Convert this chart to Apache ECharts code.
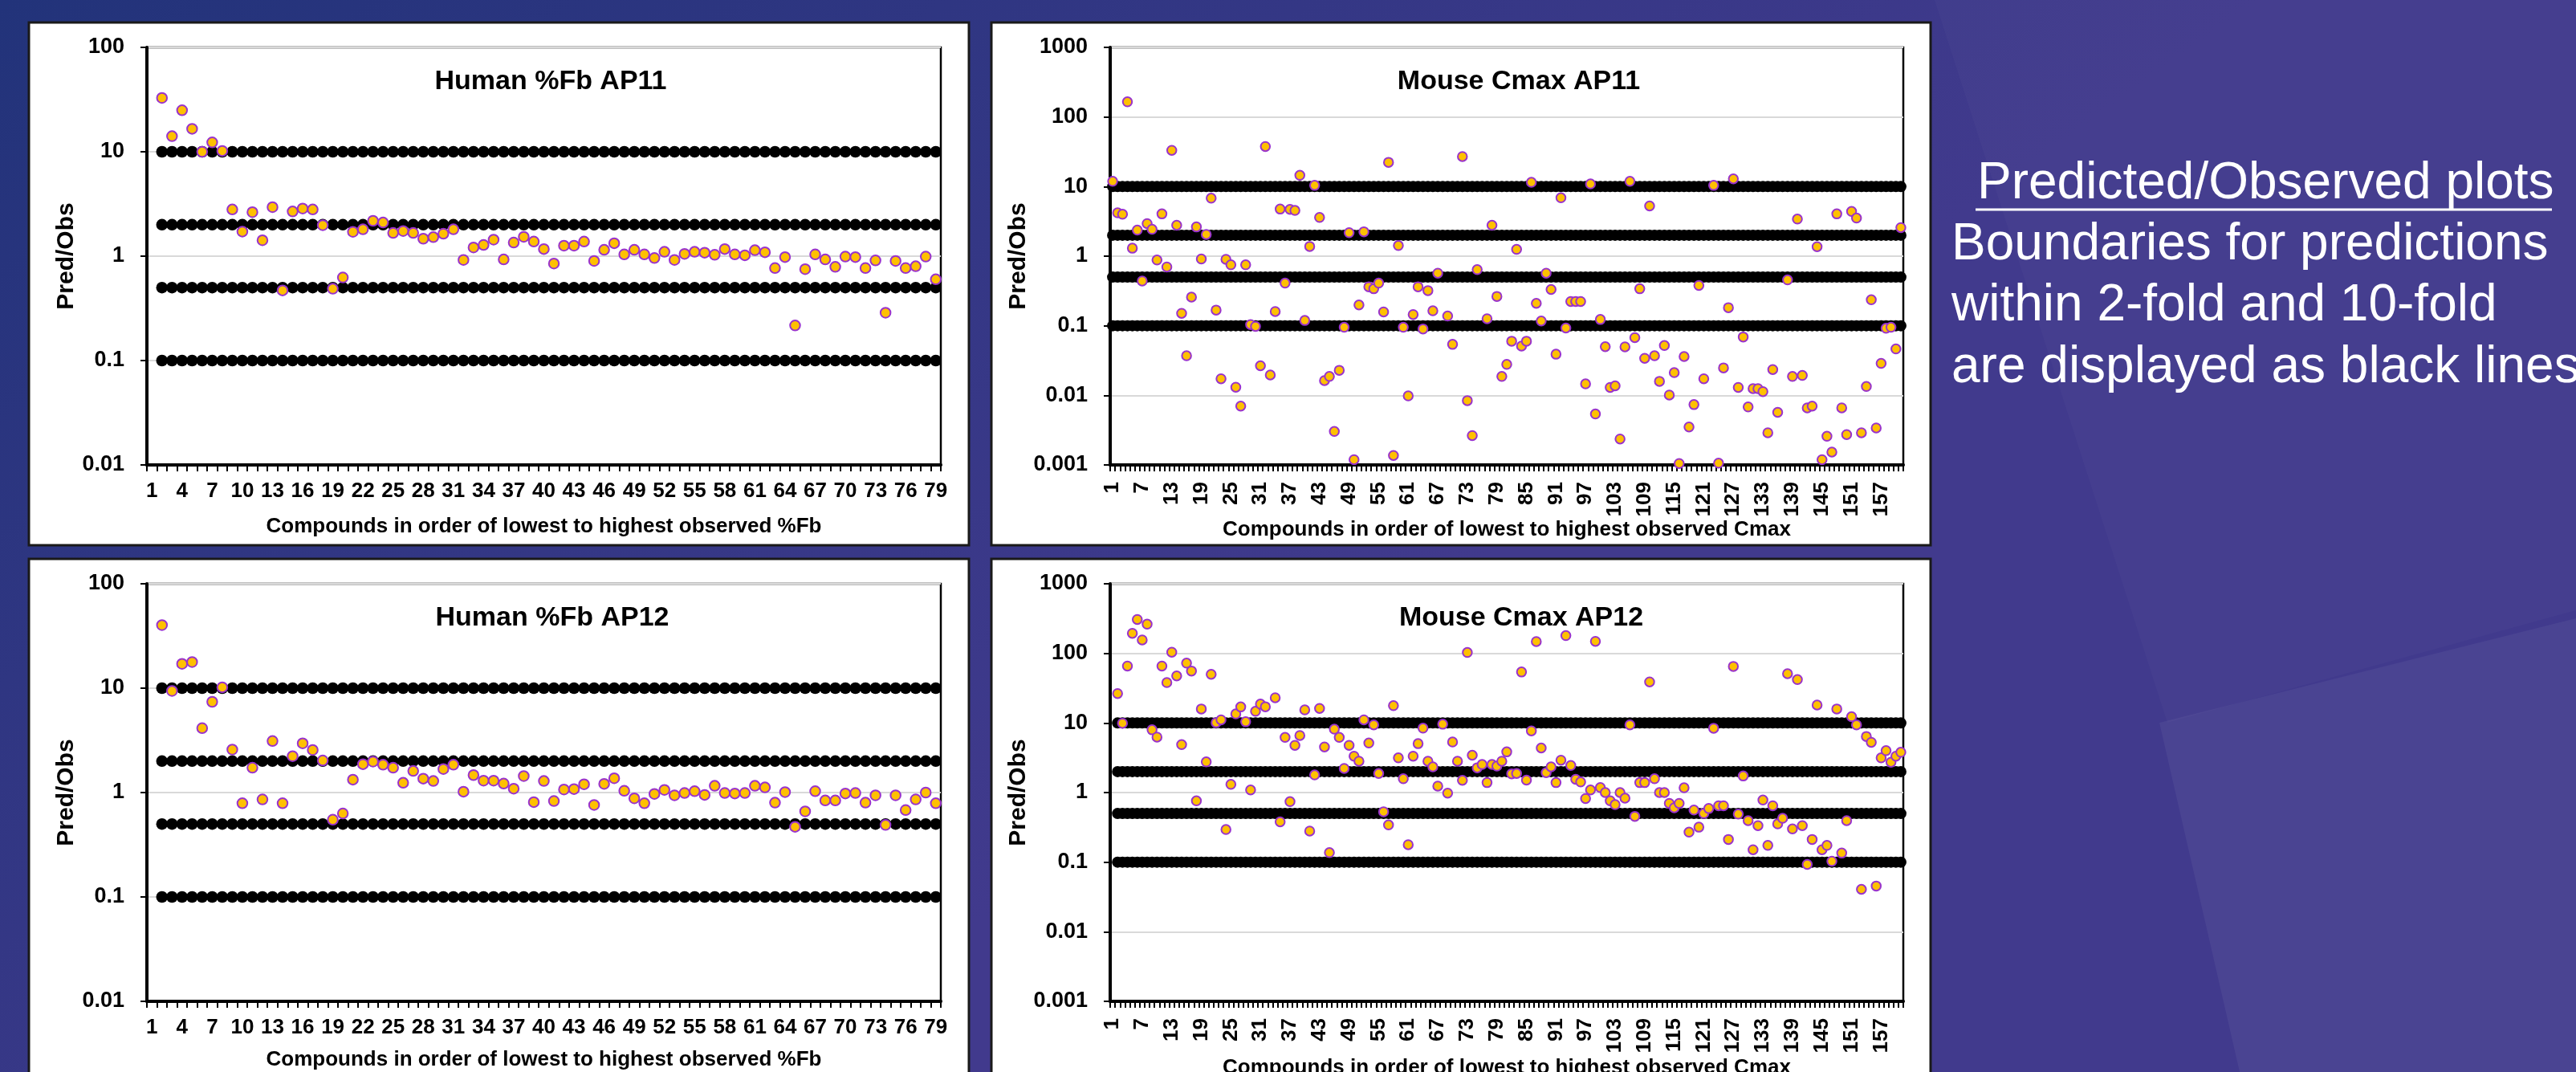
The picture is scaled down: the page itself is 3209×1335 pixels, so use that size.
<!DOCTYPE html>
<html>
<head>
<meta charset="utf-8">
<title>Predicted/Observed plots</title>
<script src="https://cdn.jsdelivr.net/npm/echarts@6/dist/echarts.min.js"></script>
<style>
  html, body { margin: 0; padding: 0; background: #25357a; }
  #chart { width: 3209px; height: 1335px; }
</style>
</head>
<body>
<div id="chart"></div>
<script>
// compound order on the x axes
const humanCats = Array.from({ length: 79 }, (_, i) => String(i + 1));
const mouseCats = Array.from({ length: 161 }, (_, i) => String(i + 1));

// decade ticks of the two log axes
const humanTicks = [0.01, 0.1, 1, 10, 100];
const mouseTicks = [0.001, 0.01, 0.1, 1, 10, 100, 1000];

// 2-fold and 10-fold boundaries (drawn as rows of black dots)
const boundaries = [10, 2, 0.5, 0.1];

// Pred/Obs ratios, index 0 = compound 1 (null = not shown)
const humanFbAP11 = [null,
  32.8, 14.1, 25, 16.6, 10, 12.3, 10.2, 2.8, 1.72,
  2.64, 1.42, 2.95, 0.47, 2.68, 2.86, 2.8, 1.98, 0.487, 0.625,
  1.71, 1.81, 2.18, 2.1, 1.67, 1.74, 1.67, 1.47, 1.52, 1.64,
  1.81, 0.92, 1.21, 1.28, 1.44, 0.93, 1.35, 1.53, 1.38, 1.17,
  0.85, 1.26, 1.26, 1.38, 0.9, 1.15, 1.33, 1.04, 1.15, 1.04,
  0.96, 1.1, 0.92, 1.05, 1.1, 1.08, 1.03, 1.17, 1.04, 1.02,
  1.14, 1.09, 0.77, 0.98, 0.217, 0.75, 1.04, 0.93, 0.79, 0.99,
  0.98, 0.77, 0.91, 0.287, 0.9, 0.77, 0.8, 0.99, 0.6];

const humanFbAP12 = [null,
  40.2, 9.4, 17.1, 17.8, 4.14, 7.4, 10.2, 2.58, 0.79,
  1.73, 0.86, 3.12, 0.79, 2.23, 2.96, 2.56, 2.03, 0.55, 0.63,
  1.33, 1.87, 1.98, 1.85, 1.73, 1.24, 1.61, 1.36, 1.29, 1.68,
  1.85, 1.02, 1.47, 1.3, 1.3, 1.22, 1.09, 1.44, 0.81, 1.29,
  0.83, 1.07, 1.08, 1.2, 0.76, 1.21, 1.37, 1.04, 0.88, 0.79,
  0.97, 1.06, 0.94, 0.99, 1.03, 0.95, 1.16, 0.99, 0.98, 0.99,
  1.16, 1.12, 0.8, 1.01, 0.47, 0.66, 1.03, 0.84, 0.84, 0.98,
  0.99, 0.8, 0.94, 0.49, 0.94, 0.68, 0.86, 1.0, 0.79];

const mouseCmaxAP11 = [
  11.9, 4.19, 4.0, 165, 1.3, 2.37, 0.44, 2.94, 2.43, 0.88,
  4.05, 0.7, 33.2, 2.78, 0.151, 0.037, 0.258, 2.63, 0.91, 2.05,
  6.8, 0.168, 0.0173, 0.9, 0.75, 0.0131, 0.007, 0.75, 0.104, 0.098,
  0.0266, 37.6, 0.0196, 0.16, 4.75, 0.41, 4.7, 4.54, 14.5, 0.119,
  1.38, 10.4, 3.6, 0.0163, 0.0187, 0.00303, 0.0229, 0.095, 2.17, 0.00119,
  0.199, 2.24, 0.363, 0.34, 0.41, 0.158, 22.3, 0.00137, 1.42, 0.095,
  0.0098, 0.145, 0.363, 0.09, 0.32, 0.164, 0.57, null, 0.138, 0.054,
  null, 27, 0.0084, 0.00264, 0.64, null, 0.126, 2.78, 0.264, 0.0187,
  0.0278, 0.06, 1.25, 0.051, 0.06, 11.5, 0.21, 0.117, 0.57, 0.332,
  0.039, 6.9, 0.093, 0.223, 0.223, 0.223, 0.0146, 10.9, 0.0054, 0.123,
  0.05, 0.013, 0.0137, 0.00236, 0.0497, 11.9, 0.0676, 0.34, 0.0341, 5.26,
  0.037, 0.0159, 0.052, 0.0101, 0.0212, 0.00105, 0.0361, 0.00351, 0.00736, 0.38,
  0.0173, null, 10.4, 0.00106, 0.0248, 0.182, 12.9, 0.013, 0.069, 0.0068,
  0.0125, 0.0125, 0.0113, 0.0029, 0.0235, 0.0057, null, 0.456, 0.0187, 3.41,
  0.0193, 0.0066, 0.007, 1.37, 0.00119, 0.00258, 0.00153, 4.05, 0.0066, 0.00273,
  4.39, 3.53, 0.0029, 0.0134, 0.236, 0.0034, 0.0288, 0.092, 0.095, 0.0464, 2.57];

const mouseCmaxAP12 = [
  null, 26.5, 9.9, 65.7, 194, 307, 156, 263, 7.97, 6.27,
  65.7, 38, 104, 47.4, 4.88, 72.5, 55.8, 0.76, 15.9, 2.76,
  50, 10.1, 11.1, 0.294, 1.31, 13.5, 17, 10.4, 1.09, 14.7,
  18.7, 17.1, null, 23, 0.38, 6.2, 0.74, 4.77, 6.6, 15.4,
  0.28, 1.79, 16.2, 4.52, 0.137, 8.15, 6.2, 2.22, 4.77, 3.33,
  2.82, 11.1, 5.15, 9.4, 1.88, 0.53, 0.343, 17.7, 3.15, 1.58,
  0.178, 3.33, 5.04, 8.42, 2.82, 2.34, 1.24, 9.6, 0.98, 5.32,
  2.82, 1.5, 103, 3.44, 2.27, 2.53, 1.39, 2.53, 2.4, 2.82,
  3.84, 1.86, 1.88, 54, 1.51, 7.7, 148, 4.37, 1.93, 2.34,
  1.39, 2.92, 180, 2.45, 1.55, 1.42, 0.82, 1.09, 149, 1.18,
  1.0, 0.76, 0.67, 1.0, 0.83, 9.4, 0.455, 1.39, 1.39, 38.9,
  1.58, 1.0, 1.0, 0.7, 0.605, 0.7, 1.17, 0.27, 0.56, 0.318,
  0.5, 0.59, 8.4, 0.646, 0.646, 0.212, 65, 0.49, 1.73, 0.395,
  0.151, 0.335, 0.78, 0.174, 0.646, 0.354, 0.427, 51, 0.3, 42,
  0.335, 0.093, 0.212, 18.1, 0.151, 0.174, 0.103, 15.9, 0.135, 0.395,
  12.3, 9.4, 0.0407, 6.4, 5.27, 0.0454, 3.15, 4.0, 2.73, 3.33, 3.79];

const font = '"Liberation Sans", Arial, Helvetica, sans-serif';

const panels = [
  { title: 'Human %Fb AP11', cats: humanCats, values: humanFbAP11, ticks: humanTicks, first: 1,
    xName: 'Compounds in order of lowest to highest observed %Fb' },
  { title: 'Mouse Cmax AP11', cats: mouseCats, values: mouseCmaxAP11, ticks: mouseTicks, first: 0,
    xName: 'Compounds in order of lowest to highest observed Cmax' },
  { title: 'Human %Fb AP12', cats: humanCats, values: humanFbAP12, ticks: humanTicks, first: 1,
    xName: 'Compounds in order of lowest to highest observed %Fb' },
  { title: 'Mouse Cmax AP12', cats: mouseCats, values: mouseCmaxAP12, ticks: mouseTicks, first: 1,
    xName: 'Compounds in order of lowest to highest observed Cmax' }
];

// screen layout of the four plots
const layout = [
  { grid: { left: 183, top: 59, width: 989, height: 520 }, titleAt: [686, 102], human: true, nameGap: 64 },
  { grid: { left: 1383, top: 59, width: 988, height: 520 }, titleAt: [1892, 102], human: false, nameGap: 68 },
  { grid: { left: 183, top: 727, width: 989, height: 520 }, titleAt: [688, 770], human: true, nameGap: 60 },
  { grid: { left: 1383, top: 727, width: 988, height: 520 }, titleAt: [1895, 770], human: false, nameGap: 70 }
];

function boundaryDots(cats, first) {
  const pts = [];
  boundaries.forEach(b => {
    for (let i = first; i < cats.length; i++) pts.push([cats[i], b]);
  });
  return pts;
}

function ratioPoints(cats, values) {
  return values.map((v, i) => (v == null ? null : [cats[i], v])).filter(Boolean);
}

const tickText = v => String(parseFloat(Number(v).toPrecision(6)));

const grids = [], xAxes = [], yAxes = [], series = [];
panels.forEach((p, i) => {
  const l = layout[i];
  grids.push(Object.assign({
    show: true, borderColor: '#000', borderWidth: 2.5, backgroundColor: 'transparent',
    containLabel: false, outerBoundsMode: 'none'
  }, l.grid));
  xAxes.push({
    type: 'category', gridIndex: i, data: p.cats, boundaryGap: true,
    name: p.xName, nameLocation: 'middle', nameGap: l.nameGap,
    nameTextStyle: { fontSize: 26, fontWeight: 'bold', color: '#000', fontFamily: font },
    axisLine: { show: true, lineStyle: { color: '#000', width: 4 } },
    axisTick: { show: true, interval: 0, length: 8, lineStyle: { color: '#000', width: 2 } },
    axisLabel: {
      interval: l.human ? 2 : 5, rotate: l.human ? 0 : 90, margin: l.human ? 20 : 21,
      fontSize: 26, fontWeight: 'bold', color: '#000', fontFamily: font, hideOverlap: false
    },
    splitLine: { show: false }
  });
  yAxes.push({
    type: 'log', logBase: 10, gridIndex: i,
    min: p.ticks[0], max: p.ticks[p.ticks.length - 1], splitNumber: p.ticks.length - 1,
    name: 'Pred/Obs', nameLocation: 'middle', nameGap: 85,
    nameTextStyle: { fontSize: 30, fontWeight: 'bold', color: '#000', fontFamily: font },
    axisLine: { show: true, lineStyle: { color: '#000', width: 4 } },
    axisTick: { show: true, length: 8, lineStyle: { color: '#000', width: 2 } },
    axisLabel: { margin: 28, fontSize: 27, fontWeight: 'bold', color: '#000', fontFamily: font, formatter: tickText },
    splitLine: { show: true, lineStyle: { color: '#d9d9d9', width: 2 } }
  });
  series.push({
    name: p.title + ' boundaries', type: 'scatter', xAxisIndex: i, yAxisIndex: i,
    data: boundaryDots(p.cats, p.first), symbol: 'circle', symbolSize: l.human ? 14.5 : 14,
    itemStyle: { color: '#000', opacity: 1 }, silent: true, z: 2
  });
  series.push({
    name: p.title, type: 'scatter', xAxisIndex: i, yAxisIndex: i,
    data: ratioPoints(p.cats, p.values), symbol: 'circle', symbolSize: l.human ? 12.5 : 11.5,
    itemStyle: { color: '#FFC000', borderColor: '#9933CC', borderWidth: 2, opacity: 1 }, silent: true, z: 3
  });
});

const textStyle = (text, x, y, size, bold, fill, align) => ({
  type: 'text', z: 10, silent: true,
  style: {
    text, x, y, fill,
    font: (bold ? 'bold ' : '') + size + 'px ' + font,
    textAlign: align, align, textVerticalAlign: 'middle', verticalAlign: 'middle'
  }
});

const graphic = [
  { type: 'rect', z: -20, silent: true, shape: { x: 0, y: 0, width: 3209, height: 1335 },
    style: { fill: new echarts.graphic.LinearGradient(0, 0, 0.3, 1, [
      { offset: 0, color: '#22337a' }, { offset: 1, color: '#413a8d' }]) } },
  { type: 'polygon', z: -19, silent: true,
    shape: { points: [[2410, 0], [3209, 0], [3209, 760], [2700, 900]] },
    style: { fill: 'rgba(255,255,255,0.025)' } },
  { type: 'polygon', z: -19, silent: true,
    shape: { points: [[2690, 900], [3209, 770], [3209, 1335], [2790, 1335]] },
    style: { fill: 'rgba(255,255,255,0.05)' } },
  { type: 'rect', z: -5, silent: true, shape: { x: 36, y: 28, width: 1171, height: 651 },
    style: { fill: '#fff', stroke: '#1a1a1a', lineWidth: 3 } },
  { type: 'rect', z: -5, silent: true, shape: { x: 1235, y: 28, width: 1170, height: 651 },
    style: { fill: '#fff', stroke: '#1a1a1a', lineWidth: 3 } },
  { type: 'rect', z: -5, silent: true, shape: { x: 36, y: 696, width: 1171, height: 700 },
    style: { fill: '#fff', stroke: '#1a1a1a', lineWidth: 3 } },
  { type: 'rect', z: -5, silent: true, shape: { x: 1235, y: 696, width: 1170, height: 700 },
    style: { fill: '#fff', stroke: '#1a1a1a', lineWidth: 3 } }
];
panels.forEach((p, i) => {
  graphic.push(textStyle(p.title, layout[i].titleAt[0], layout[i].titleAt[1], 34, true, '#000', 'center'));
});

// note on the right
graphic.push(textStyle('Predicted/Observed plots', 2463, 229, 64, false, '#fff', 'left'));
graphic.push({ type: 'line', z: 10, silent: true, shape: { x1: 2461, y1: 261, x2: 3179, y2: 261 },
  style: { stroke: '#fff', lineWidth: 3 } });
graphic.push(textStyle('Boundaries for predictions', 2431, 305, 64, false, '#fff', 'left'));
graphic.push(textStyle('within 2-fold and 10-fold', 2431, 381, 64, false, '#fff', 'left'));
graphic.push(textStyle('are displayed as black lines', 2431, 458, 64, false, '#fff', 'left'));

const chart = echarts.init(document.getElementById('chart'), null, { renderer: 'canvas' });
chart.setOption({
  animation: false,
  backgroundColor: 'transparent',
  grid: grids,
  xAxis: xAxes,
  yAxis: yAxes,
  series: series,
  graphic: graphic
});
</script>
</body>
</html>
